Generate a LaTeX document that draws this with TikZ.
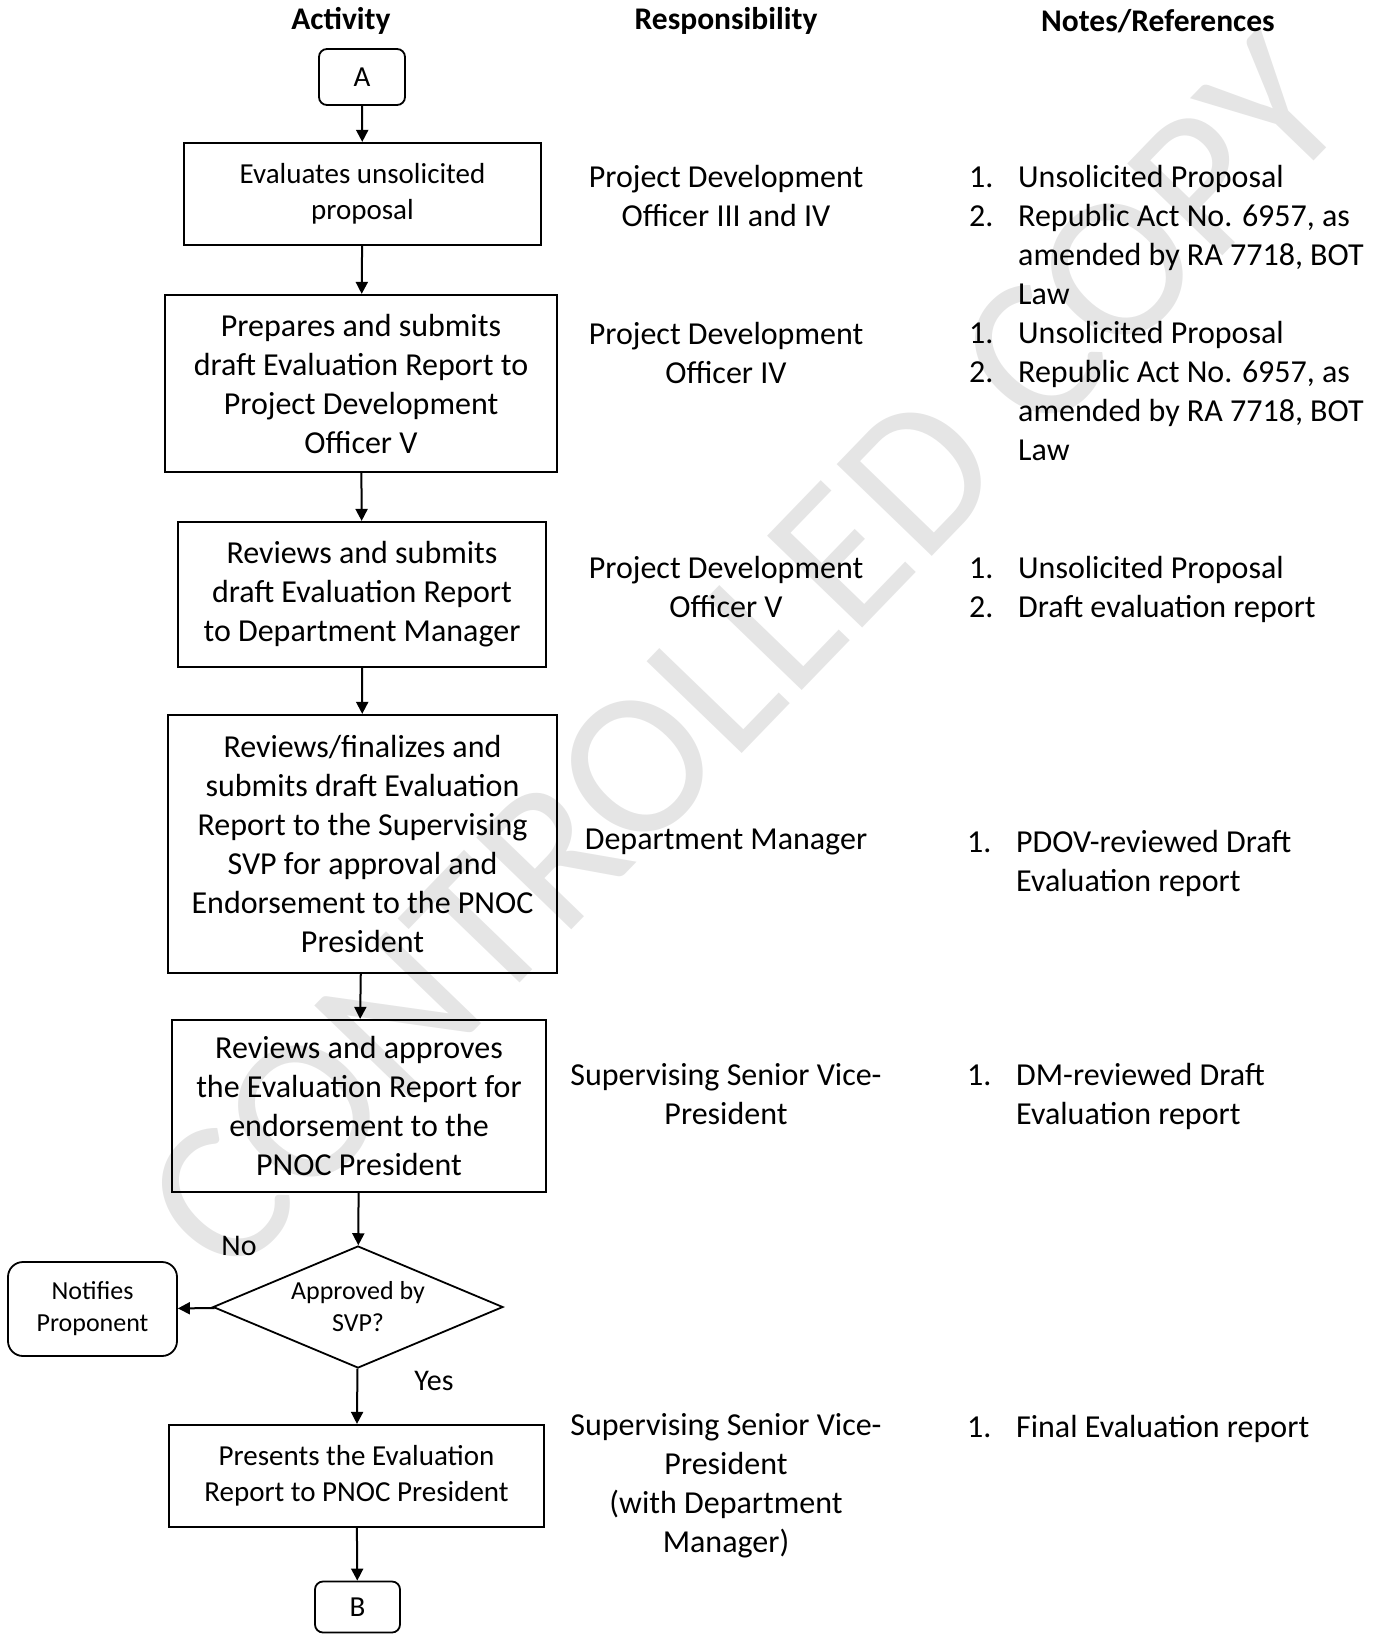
\documentclass[tikz,border=0pt]{standalone}
\usepackage{fontspec}
\setmainfont{Carlito}
\usetikzlibrary{arrows.meta,positioning,shapes.geometric}

\begin{document}
\begin{tikzpicture}[
  x=1pt, y=-1pt,
  big/.style={font=\fontsize{32}{39}\selectfont},
  small/.style={font=\fontsize{29}{36}\selectfont},
  tiny/.style={font=\fontsize{26}{32}\selectfont},
  head/.style={font=\fontsize{31.5}{36}\selectfont\bfseries, inner sep=0pt},
  box/.style={draw, line width=2.2pt, align=center, inner sep=0pt, big},
  term/.style={draw, line width=1.8pt, rounded corners=#1, align=center, inner sep=0pt, small},
  term/.default=8pt,
  dec/.style={draw, diamond, aspect=2.38, line width=1.8pt, align=center, inner sep=0pt, tiny},
  resp/.style={align=center, inner sep=0pt, big},
  note/.style={anchor=north west, inner sep=0pt, big},
  lbl/.style={inner sep=0pt, font=\fontsize{30}{36}\selectfont},
  wmark/.style={text=black!10, inner sep=0pt, font=\fontsize{206}{240}\selectfont},
  arr/.style={-{Triangle[length=12pt,width=12pt]}, line width=2pt}]
\path[use as bounding box] (0,0) rectangle (1373,1634);
% watermark
\node[wmark, rotate=46] (wm) at (745,655) {CONTROLLED COPY};
% column heads
\node[head] (hact) at (341,21) {Activity};
\node[head] (hres) at (726,21) {Responsibility};
\node[head] (hnot) at (1158,21) {Notes/References};
% activity column
\node[term, minimum width=86, minimum height=56] (a) at (362,77) {A};
\node[box, small, minimum width=357, minimum height=102] (eval) at (362.5,194) {Evaluates unsolicited\\proposal};
\node[box, minimum width=392, minimum height=177] (prep) at (361,383.5) {Prepares and submits\\draft Evaluation Report to\\Project Development\\Officer V};
\node[box, minimum width=368, minimum height=145] (rev) at (362,594.5) {Reviews and submits\\draft Evaluation Report\\to Department Manager};
\node[box, minimum width=389, minimum height=258] (fin) at (362.5,844) {Reviews/finalizes and\\submits draft Evaluation\\Report to the Supervising\\SVP for approval and\\Endorsement to the PNOC\\President};
\node[box, minimum width=374, minimum height=172] (appr) at (359,1106) {Reviews and approves\\the Evaluation Report for\\endorsement to the\\PNOC President};
\node[dec, minimum width=290, minimum height=122] (ok) at (358,1307) {Approved by\\SVP?};
\node[term=15pt, tiny, minimum width=169, minimum height=94] (notify) at (92.5,1309) {Notifies\\Proponent};
\node[box, small, minimum width=375, minimum height=102] (pres) at (356.5,1476) {Presents the Evaluation\\Report to PNOC President};
\node[term, minimum width=85, minimum height=51] (b) at (357.5,1607) {B};
\node[lbl] (no) at (239,1246) {No};
\node[lbl] (yes) at (434,1381) {Yes};
% responsibility column
\node[resp] (r1) at (726,196) {Project Development\\Officer III and IV};
\node[resp] (r2) at (726,353) {Project Development\\Officer IV};
\node[resp] (r3) at (726,587) {Project Development\\Officer V};
\node[resp] (r4) at (726,842) {Department Manager};
\node[resp] (r5) at (726,1094) {Supervising Senior Vice-\\President};
\node[resp] (r6) at (726,1486) {Supervising Senior Vice-\\President\\(with Department\\Manager)};
% notes column
\node[note] (n1) at (969,160) {\begin{tabular}[t]{@{}p{49pt}@{}l@{}}
  1. & Unsolicited Proposal\\ 2. & Republic Act No. 6957, as\\ & amended by RA 7718, BOT\\ & Law\end{tabular}};
\node[note] (n2) at (969,316) {\begin{tabular}[t]{@{}p{49pt}@{}l@{}}
  1. & Unsolicited Proposal\\ 2. & Republic Act No. 6957, as\\ & amended by RA 7718, BOT\\ & Law\end{tabular}};
\node[note] (n3) at (969,551) {\begin{tabular}[t]{@{}p{49pt}@{}l@{}}
  1. & Unsolicited Proposal\\ 2. & Draft evaluation report\end{tabular}};
\node[note] (n4) at (967,825) {\begin{tabular}[t]{@{}p{49pt}@{}l@{}}
  1. & PDOV-reviewed Draft\\ & Evaluation report\end{tabular}};
\node[note] (n5) at (967,1058) {\begin{tabular}[t]{@{}p{49pt}@{}l@{}}
  1. & DM-reviewed Draft\\ & Evaluation report\end{tabular}};
\node[note] (n6) at (967,1410) {\begin{tabular}[t]{@{}p{49pt}@{}l@{}}
  1. & Final Evaluation report\end{tabular}};
% connectors
\draw[arr] (a) -- (eval);
\draw[arr] (eval) -- (prep);
\draw[arr] (prep) -- (rev);
\draw[arr] (rev) -- (fin);
\draw[arr] (fin) -- (appr);
\draw[arr] (appr) -- (ok);
\draw[arr] (ok) -- (notify);
\draw[arr] (ok) -- (pres);
\draw[arr] (pres) -- (b);
\end{tikzpicture}
\end{document}
